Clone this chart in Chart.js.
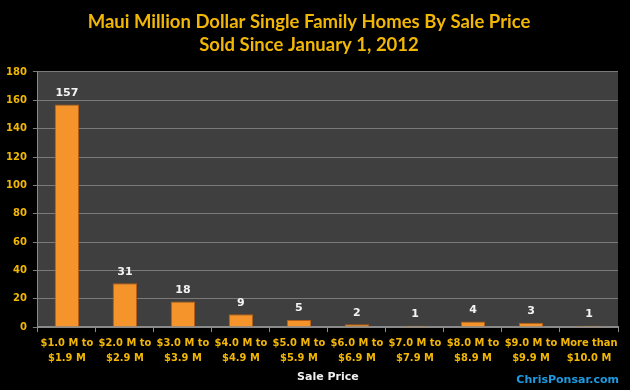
<!DOCTYPE html>
<html>
<head>
<meta charset="utf-8">
<script src="https://cdn.jsdelivr.net/npm/chart.js@4/dist/chart.umd.min.js"></script>
<style>
  html, body { margin: 0; padding: 0; background: #000; }
  #wrap { width: 630px; height: 390px; }
</style>
</head>
<body>
<div id="wrap"><canvas id="c" width="630" height="390"></canvas></div>
<script>
const categories = [
  ['$1.0 M to', '$1.9 M'], ['$2.0 M to', '$2.9 M'], ['$3.0 M to', '$3.9 M'],
  ['$4.0 M to', '$4.9 M'], ['$5.0 M to', '$5.9 M'], ['$6.0 M to', '$6.9 M'],
  ['$7.0 M to', '$7.9 M'], ['$8.0 M to', '$8.9 M'], ['$9.0 M to', '$9.9 M'],
  ['More than', '$10.0 M']
]
const homesSold = [157, 31, 18, 9, 5, 2, 1, 4, 3, 1]
const titleLines = ['Maui Million Dollar Single Family Homes By Sale Price', 'Sold Since January 1, 2012']

const gold = '#f2b705'

// gray plot area behind the bars
const plotBg = {
  id: 'plotBg',
  beforeDraw(chart) {
    const a = chart.chartArea, ctx = chart.ctx
    ctx.save()
    ctx.fillStyle = '#3f3f3f'
    ctx.fillRect(a.left, a.top, a.right - a.left, a.bottom - a.top)
    ctx.restore()
  }
}

// value above each bar + site name in the corner
const labels = {
  id: 'labels',
  afterDatasetsDraw(chart) {
    const ctx = chart.ctx
    const meta = chart.getDatasetMeta(0)
    ctx.save()
    ctx.fillStyle = '#f4f4f4'
    ctx.font = 'bold 11px "DejaVu Sans"'
    ctx.textAlign = 'center'
    ctx.textBaseline = 'bottom'
    meta.data.forEach((bar, i) => {
      ctx.fillText(homesSold[i], bar.x, bar.y - 6)
    })
    ctx.font = 'bold 11px "DejaVu Sans"'
    ctx.fillStyle = '#1f9ae0'
    ctx.textAlign = 'right'
    ctx.fillText('ChrisPonsar.com', 619, 386)
    ctx.restore()
  }
}

new Chart(document.getElementById('c'), {
  type: 'bar',
  data: {
    labels: categories,
    datasets: [{
      data: homesSold,
      backgroundColor: '#f5942a',
      borderColor: '#b85e14',
      borderWidth: 1,
      categoryPercentage: 1,
      barPercentage: 0.42
    }]
  },
  options: {
    responsive: false,
    animation: false,
    layout: { padding: { left: 0, right: 12, top: 0, bottom: 6 } },
    plugins: {
      legend: { display: false },
      tooltip: { enabled: false },
      title: {
        display: true,
        text: titleLines,
        color: gold,
        font: { family: 'Lato', size: 18.5, weight: 'bold', lineHeight: 1.27 },
        padding: { top: 10, bottom: 15 }
      }
    },
    scales: {
      x: {
        offset: true,
        grid: {
          offset: true,
          drawOnChartArea: false,
          color: '#8a8a8a',
          tickLength: 5
        },
        border: { color: '#8a8a8a', width: 2 },
        ticks: {
          color: gold,
          font: { family: 'DejaVu Sans Condensed', size: 11, weight: 'bold', lineHeight: 1.35 },
          maxRotation: 0,
          autoSkip: false,
          padding: 4
        },
        title: {
          display: true,
          text: 'Sale Price',
          color: '#f0f0f0',
          font: { family: 'DejaVu Sans', size: 11, weight: 'bold' },
          padding: { top: 1, bottom: 0 }
        }
      },
      y: {
        min: 0,
        max: 180,
        ticks: {
          stepSize: 20,
          color: gold,
          font: { family: 'DejaVu Sans', size: 10, weight: 'bold' },
          padding: 6
        },
        grid: { color: '#7a7a7a', tickLength: 5 },
        border: { color: '#8a8a8a' }
      }
    }
  },
  plugins: [plotBg, labels]
})
</script>
</body>
</html>
